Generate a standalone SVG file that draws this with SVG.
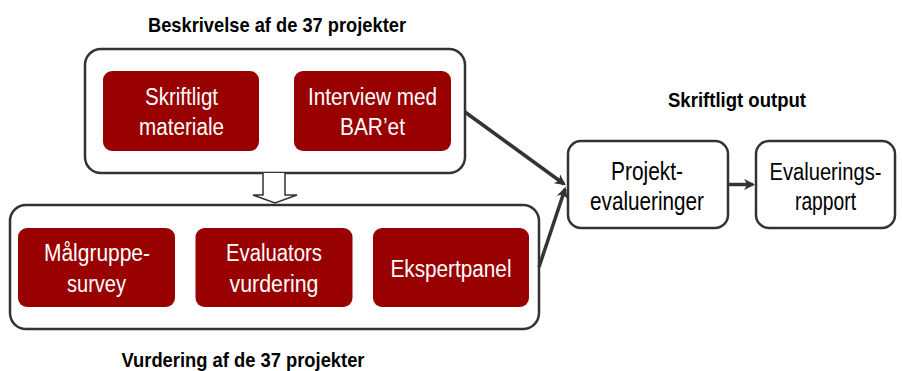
<svg xmlns="http://www.w3.org/2000/svg" width="902" height="371" viewBox="0 0 902 371">
<defs>
<style>
.cont{fill:#fff;stroke:#333;stroke-width:2.5}
.red{fill:#990000;stroke:none}
.wt{fill:#fff;font-family:"Liberation Sans",Arial,sans-serif;font-size:23px;text-anchor:middle}
.bt{fill:#000;font-family:"Liberation Sans",Arial,sans-serif;font-size:25px;text-anchor:middle}
.title{fill:#000;font-family:"Liberation Sans",Arial,sans-serif;font-size:21px;font-weight:bold;text-anchor:middle}
.conn{stroke:#333;stroke-width:3.5;fill:none}
</style>
<marker id="ah" viewBox="0 0 10 10" refX="8" refY="5" markerWidth="3.2" markerHeight="3.2" orient="auto" markerUnits="strokeWidth">
<path d="M0,0 L10,5 L0,10 Q4,5 0,0 Z" fill="#333"/>
</marker>
</defs>
<text class="title" x="277" y="32" textLength="258" lengthAdjust="spacingAndGlyphs">Beskrivelse af de 37 projekter</text>
<text class="title" x="243" y="367" textLength="243" lengthAdjust="spacingAndGlyphs">Vurdering af de 37 projekter</text>
<text class="title" x="737" y="107" textLength="138" lengthAdjust="spacingAndGlyphs">Skriftligt output</text>
<g id="top-container">
<rect class="cont" x="85" y="49" width="380" height="124" rx="16"/>
</g>
<g id="skriftligt">
<rect class="red" x="103" y="71" width="156" height="80" rx="9"/>
<text class="wt" x="181.5" y="105" textLength="73" lengthAdjust="spacingAndGlyphs">Skriftligt</text>
<text class="wt" x="181.5" y="135" textLength="85" lengthAdjust="spacingAndGlyphs">materiale</text>
</g>
<g id="interview">
<rect class="red" x="294" y="71" width="157" height="80" rx="9"/>
<text class="wt" x="372.5" y="105" textLength="129" lengthAdjust="spacingAndGlyphs">Interview med</text>
<text class="wt" x="372.5" y="135" textLength="65" lengthAdjust="spacingAndGlyphs">BAR’et</text>
</g>
<g id="bottom-container">
<rect class="cont" x="10" y="205" width="529" height="124" rx="16"/>
</g>
<g id="maalgruppe">
<rect class="red" x="18" y="228" width="157" height="79" rx="9"/>
<text class="wt" x="97" y="261" textLength="106" lengthAdjust="spacingAndGlyphs">Målgruppe-</text>
<text class="wt" x="96.5" y="292" textLength="59" lengthAdjust="spacingAndGlyphs">survey</text>
</g>
<g id="evaluators">
<rect class="red" x="195.5" y="228" width="157" height="79" rx="9"/>
<text class="wt" x="274" y="261" textLength="96" lengthAdjust="spacingAndGlyphs">Evaluators</text>
<text class="wt" x="274" y="292" textLength="89" lengthAdjust="spacingAndGlyphs">vurdering</text>
</g>
<g id="ekspertpanel">
<rect class="red" x="373" y="228" width="156" height="79" rx="9"/>
<text class="wt" x="451" y="277" textLength="121" lengthAdjust="spacingAndGlyphs">Ekspertpanel</text>
</g>
<g id="projekt">
<rect class="cont" x="568" y="141" width="160" height="87" rx="13"/>
<text class="bt" x="647" y="180" textLength="72" lengthAdjust="spacingAndGlyphs">Projekt-</text>
<text class="bt" x="647" y="210" textLength="114" lengthAdjust="spacingAndGlyphs">evalueringer</text>
</g>
<g id="evalueringsrapport">
<rect class="cont" x="756" y="141" width="139" height="87" rx="13"/>
<text class="bt" x="825.5" y="180" style="font-size:23px" textLength="112" lengthAdjust="spacingAndGlyphs">Evaluerings-</text>
<text class="bt" x="825.5" y="210" textLength="61" lengthAdjust="spacingAndGlyphs">rapport</text>
</g>
<g id="connectors">
<path d="M263,173 V195 H253 L275,203 L297,195 H285 V173" fill="#fff" stroke="#333" stroke-width="1.5" stroke-linejoin="miter"/>
<line class="conn" x1="465" y1="112" x2="564" y2="184" marker-end="url(#ah)"/>
<line class="conn" x1="539" y1="267" x2="565" y2="189" marker-end="url(#ah)"/>
<line class="conn" x1="728" y1="184.5" x2="753" y2="184.5" marker-end="url(#ah)"/>
</g>
</svg>
